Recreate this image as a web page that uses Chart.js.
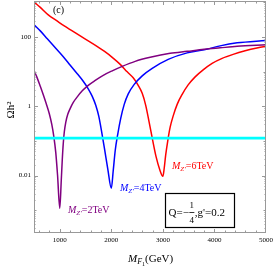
<!DOCTYPE html>
<html>
<head>
<meta charset="utf-8">
<script src="https://cdn.jsdelivr.net/npm/chart.js@4.4.1/dist/chart.umd.min.js"></script>
<style>
  html, body { margin: 0; padding: 0; background: #fff; }
  #wrap { width: 274px; height: 267px; }
</style>
</head>
<body>
<div id="wrap"><canvas id="chart" width="274" height="267"></canvas></div>
<script>
// M_F1 (GeV) vs relic density
const massZ2 = [500, 554, 622, 680, 738, 797, 845, 884, 922, 957, 1000, 1029, 1048, 1068, 1087, 1116, 1155, 1203, 1262, 1339, 1436, 1552, 1688, 1843, 2017, 2211, 2463, 2754, 3141, 3471, 3800, 4110, 4440, 5000];
const omegaZ2 = [10.9, 7.1, 3.78, 2.15, 1.18, 0.61, 0.30, 0.136, 0.047, 0.0102, 0.00114, 0.0073, 0.0277, 0.0855, 0.178, 0.345, 0.587, 0.875, 1.30, 1.88, 2.80, 4.04, 5.62, 7.85, 10.6, 14.3, 19.9, 26.0, 33.9, 38.7, 44.2, 48.8, 54, 59.6];

const massZ4 = [500, 622, 758, 913, 1068, 1203, 1339, 1455, 1552, 1630, 1698, 1756, 1814, 1872, 1930, 2000, 2037, 2076, 2124, 2182, 2250, 2328, 2444, 2599, 2793, 3103, 3471, 3800, 4110, 4440, 5000];
const omegaZ4 = [228, 151, 89, 49, 27, 15.3, 8.7, 5.3, 3.2, 1.94, 1.07, 0.52, 0.178, 0.054, 0.016, 0.0043, 0.014, 0.054, 0.156, 0.45, 1.14, 2.29, 4.3, 7.6, 12.5, 22.7, 35, 42.7, 55.7, 68, 80];

const massZ6 = [500, 622, 777, 932, 1087, 1242, 1397, 1552, 1707, 1862, 2017, 2172, 2308, 2424, 2521, 2599, 2667, 2734, 2802, 2870, 2938, 3000, 3025, 3054, 3093, 3141, 3200, 3277, 3374, 3490, 3626, 3781, 3955, 4149, 4362, 4595, 4847, 5000];
const omegaZ6 = [1037, 719, 437, 303, 210, 151, 108, 78, 56, 39, 26, 16.3, 9.9, 6.65, 4.04, 2.37, 1.07, 0.345, 0.104, 0.034, 0.015, 0.0095, 0.016, 0.039, 0.098, 0.25, 0.53, 1.14, 2.22, 4.17, 7.1, 11.3, 17.4, 24.3, 31.7, 40, 48.8, 54];

const relicMass = [500, 5000];
const relicOmega = [0.12, 0.12];

const xTicks = [1000, 2000, 3000, 4000, 5000];
const yTicks = [0.01, 1, 100];
const yTickLabels = ['0.01', '1', '100'];

const SERIF = '"Liberation Serif", "DejaVu Serif", serif';
const toPoints = (xs, ys) => xs.map((x, i) => ({ x: x, y: ys[i] }));

function curve(xs, ys, color, width) {
    return {
        data: toPoints(xs, ys),
        borderColor: color,
        borderWidth: width,
        pointRadius: 0,
        fill: false,
        cubicInterpolationMode: 'monotone'
    };
}

// write a run of text pieces with different fonts / offsets
function drawRuns(ctx, x, y, runs, color) {
    ctx.fillStyle = color;
    ctx.textBaseline = 'alphabetic';
    ctx.textAlign = 'left';
    runs.forEach(r => {
        ctx.font = r.font;
        ctx.fillText(r.t, x, y + (r.dy || 0));
        x += ctx.measureText(r.t).width;
    });
    return x;
}

function massLabel(ctx, x, y, value, color) {
    drawRuns(ctx, x, y, [
        { t: 'M', font: 'italic 10px ' + SERIF },
        { t: 'Z′', font: 'italic 7px ' + SERIF, dy: 2 },
        { t: '=' + value, font: '10px ' + SERIF }
    ], color);
}

const framePlugin = {
    id: 'frame',
    afterDraw(chart) {
        const ctx = chart.ctx;
        const a = chart.chartArea;
        const xs = chart.scales.x;
        const ys = chart.scales.y;
        ctx.save();

        // frame
        ctx.strokeStyle = '#999';
        ctx.lineWidth = 1;
        ctx.strokeRect(a.left + 0.5, a.top + 0.5, a.right - a.left - 1, a.bottom - a.top - 1);

        // inward ticks
        ctx.beginPath();
        for (let m = 600; m <= 4800; m += 200) {
            const px = Math.round(xs.getPixelForValue(m)) + 0.5;
            const len = m % 1000 === 0 ? 4 : 2.5;
            ctx.moveTo(px, a.bottom); ctx.lineTo(px, a.bottom - len);
            ctx.moveTo(px, a.top); ctx.lineTo(px, a.top + len);
        }
        for (let k = -4; k <= 3; k++) {
            for (let d = 1; d <= 9; d++) {
                const v = d * Math.pow(10, k);
                if (v < ys.min || v > ys.max) continue;
                const py = Math.round(ys.getPixelForValue(v)) + 0.5;
                let len = 1.5;
                if (d === 1) len = (k % 2 === 0) ? 4 : 2.5;
                ctx.moveTo(a.left, py); ctx.lineTo(a.left + len, py);
                ctx.moveTo(a.right, py); ctx.lineTo(a.right - len, py);
            }
        }
        ctx.stroke();

        // panel tag
        ctx.fillStyle = '#000';
        ctx.font = '10px ' + SERIF;
        ctx.textAlign = 'left';
        ctx.fillText('(c)', 53, 13);

        // curve labels
        massLabel(ctx, 68, 213, '2TeV', '#800080');
        massLabel(ctx, 120, 191, '4TeV', '#0000ff');
        massLabel(ctx, 172, 169, '6TeV', '#ff0000');

        // parameter box
        ctx.strokeStyle = '#000';
        ctx.lineWidth = 1.2;
        ctx.strokeRect(165.5, 193.5, 69, 34);
        let tx = drawRuns(ctx, 168.5, 216, [{ t: 'Q=−', font: '11px ' + SERIF }], '#000');
        ctx.font = '9px ' + SERIF;
        ctx.textAlign = 'center';
        ctx.fillText('1', tx + 3, 207.5);
        ctx.fillText('4', tx + 3, 222.5);
        ctx.beginPath();
        ctx.moveTo(tx + 0.5, 212.5); ctx.lineTo(tx + 5.5, 212.5);
        ctx.lineWidth = 0.8;
        ctx.stroke();
        drawRuns(ctx, tx + 6, 216, [{ t: ",g'=0.2", font: '11px ' + SERIF }], '#000');

        // axis titles
        drawRuns(ctx, 128, 262, [
            { t: 'M', font: 'italic 11px ' + SERIF },
            { t: 'F', font: 'italic 8px ' + SERIF, dy: 2 },
            { t: '1', font: '6px ' + SERIF, dy: 3.5 },
            { t: '(GeV)', font: '11px ' + SERIF }
        ], '#000');

        ctx.save();
        ctx.translate(14, 110);
        ctx.rotate(-Math.PI / 2);
        ctx.font = '11px ' + SERIF;
        ctx.textAlign = 'center';
        ctx.fillStyle = '#000';
        ctx.fillText('Ωh²', 0, 0);
        ctx.restore();

        ctx.restore();
    }
};

new Chart(document.getElementById('chart'), {
    type: 'line',
    data: {
        datasets: [
            curve(relicMass, relicOmega, '#00ffff', 2.8),
            curve(massZ2, omegaZ2, '#800080', 1.5),
            curve(massZ4, omegaZ4, '#0000ff', 1.5),
            curve(massZ6, omegaZ6, '#ff0000', 1.5)
        ]
    },
    options: {
        responsive: false,
        animation: false,
        devicePixelRatio: 1,
        layout: { padding: { left: 0, right: 8, top: 1, bottom: 0 } },
        plugins: {
            legend: { display: false },
            tooltip: { enabled: false }
        },
        scales: {
            x: {
                type: 'linear',
                min: 500,
                max: 5000,
                grid: { display: false, drawTicks: false },
                border: { display: false },
                afterBuildTicks: (scale) => { scale.ticks = xTicks.map(v => ({ value: v })); },
                afterFit: (scale) => { scale.height = 34; scale.paddingLeft = 0; scale.paddingRight = 0; },
                ticks: {
                    color: '#000',
                    padding: 3,
                    maxRotation: 0,
                    font: { family: SERIF, size: 7 },
                    callback: (v) => String(v)
                }
            },
            y: {
                type: 'logarithmic',
                min: 2.2e-4,
                max: 1100,
                grid: { display: false, drawTicks: false },
                border: { display: false },
                afterBuildTicks: (scale) => { scale.ticks = yTicks.map(v => ({ value: v })); },
                afterFit: (scale) => { scale.width = 34; scale.paddingTop = 0; scale.paddingBottom = 0; },
                ticks: {
                    color: '#000',
                    padding: 3,
                    font: { family: SERIF, size: 7 },
                    callback: (v) => yTickLabels[yTicks.indexOf(v)]
                }
            }
        }
    },
    plugins: [framePlugin]
});
</script>
</body>
</html>
